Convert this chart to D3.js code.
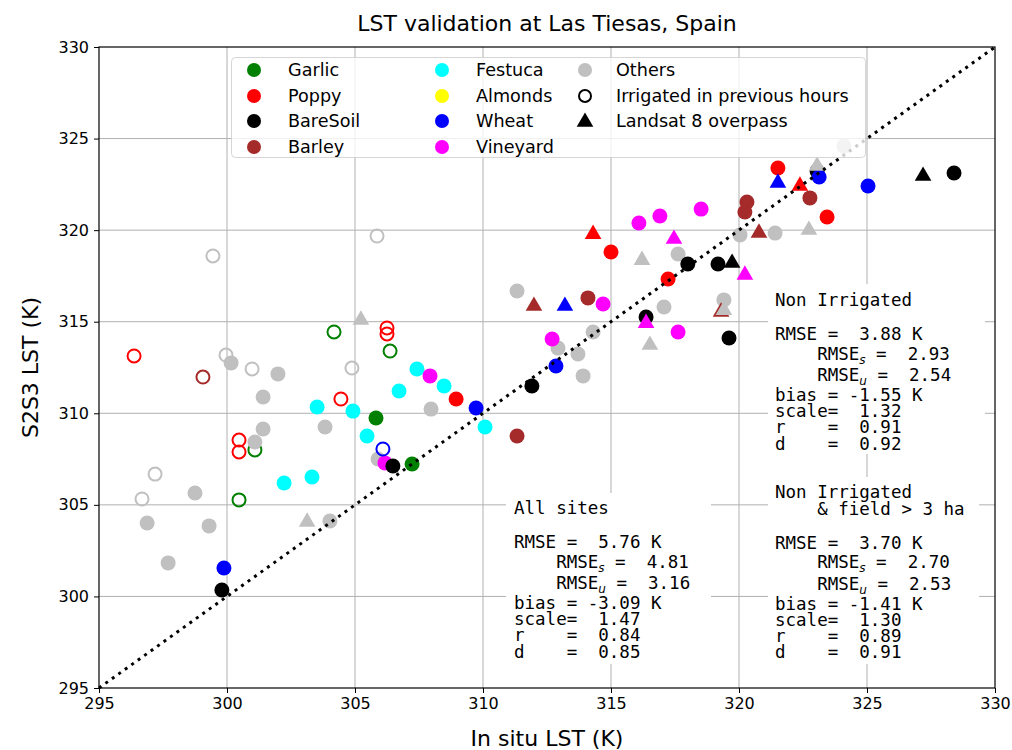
<!DOCTYPE html>
<html>
<head>
<meta charset="utf-8">
<script src="https://cdn.jsdelivr.net/npm/d3@7"></script>
<style>
  html, body { margin: 0; padding: 0; background: #fff; }
  svg text { font-family: "DejaVu Sans", sans-serif; fill: #000; }
  .mono { font-family: "DejaVu Sans Mono", monospace; white-space: pre; }
</style>
</head>
<body>
<svg id="chart" width="1012" height="750"></svg>
<script>
// Axis ticks
const xTicks = [295, 300, 305, 310, 315, 320, 325, 330];
const yTicks = [295, 300, 305, 310, 315, 320, 325, 330];

// Points per crop: [in situ LST, S2S3 LST, kind]
// kind: "n" = normal, "i" = irrigated in previous hours, "l" = Landsat 8 overpass
const garlic = [
  [304.18, 314.44, "i"], [306.37, 313.40, "i"], [301.09, 308.00, "i"], [300.47, 305.27, "i"],
  [305.82, 309.74, "n"], [307.23, 307.23, "n"]
];
const barley = [
  [299.06, 311.98, "i"],
  [311.33, 308.76, "n"], [314.10, 316.30, "n"], [320.31, 321.54, "n"], [320.23, 320.99, "n"], [322.77, 321.76, "n"],
  [311.99, 315.91, "l"], [320.78, 319.90, "l"], [319.30, 315.59, "l"]
];
const others = [
  [301.41, 309.14, "n"], [301.09, 308.43, "n"], [300.16, 312.75, "n"], [301.99, 312.15, "n"],
  [301.41, 310.89, "n"], [303.83, 309.25, "n"], [298.75, 305.65, "n"], [296.88, 304.01, "n"],
  [299.30, 303.85, "n"], [297.70, 301.83, "n"], [304.02, 304.12, "n"], [305.90, 307.50, "n"],
  [307.97, 310.23, "n"], [311.33, 316.68, "n"], [314.30, 314.44, "n"], [312.93, 313.56, "n"],
  [313.71, 313.24, "n"], [313.91, 312.04, "n"], [317.07, 315.80, "n"], [317.62, 318.70, "n"],
  [320.04, 319.74, "n"], [321.41, 319.84, "n"], [319.41, 316.19, "n"], [324.10, 324.59, "n"],
  [299.45, 318.59, "i"], [305.86, 319.68, "i"], [299.96, 313.18, "i"], [300.98, 312.42, "i"],
  [304.88, 312.47, "i"], [297.19, 306.68, "i"], [296.68, 305.32, "i"],
  [305.23, 315.15, "l"], [303.13, 304.12, "l"], [316.21, 318.42, "l"], [316.52, 313.78, "l"],
  [322.73, 320.06, "l"], [323.05, 323.56, "l"], [319.41, 315.69, "l"]
];
const poppy = [
  [296.37, 313.13, "i"], [300.47, 308.54, "i"], [300.47, 307.89, "i"], [304.45, 310.78, "i"],
  [306.25, 314.66, "i"], [306.25, 314.33, "i"],
  [308.95, 310.78, "n"], [315.00, 318.81, "n"], [317.23, 317.33, "n"], [321.52, 323.39, "n"], [323.44, 320.72, "n"],
  [314.30, 319.84, "l"], [322.38, 322.47, "l"]
];
const festuca = [
  [302.23, 306.19, "n"], [303.32, 306.52, "n"], [303.52, 310.34, "n"], [304.92, 310.12, "n"],
  [305.47, 308.76, "n"], [306.72, 311.22, "n"], [307.42, 312.42, "n"], [308.48, 311.49, "n"],
  [310.08, 309.25, "n"]
];
const almonds = [];
const vineyard = [
  [306.17, 307.29, "n"], [307.93, 312.04, "n"], [312.70, 314.06, "n"], [314.69, 315.97, "n"],
  [316.09, 320.39, "n"], [316.91, 320.77, "n"], [318.52, 321.15, "n"], [317.62, 314.44, "n"],
  [316.37, 314.98, "l"], [317.46, 319.57, "l"], [320.23, 317.61, "l"]
];
const bareSoil = [
  [299.80, 300.35, "n"], [306.48, 307.12, "n"], [311.91, 311.49, "n"], [316.37, 315.26, "n"],
  [318.00, 318.15, "n"], [319.18, 318.15, "n"], [319.61, 314.11, "n"], [323.05, 323.23, "n"],
  [328.40, 323.12, "n"],
  [319.73, 318.26, "l"], [327.19, 323.01, "l"]
];
const wheat = [
  [299.88, 301.55, "n"], [309.73, 310.29, "n"], [312.85, 312.58, "n"], [323.13, 322.90, "n"], [325.04, 322.41, "n"],
  [306.09, 308.05, "i"],
  [313.20, 315.91, "l"], [321.52, 322.63, "l"]
];

// Legend labels (in legend order)
const legendCrops = ["Garlic", "Poppy", "BareSoil", "Barley", "Festuca", "Almonds", "Wheat", "Vineyard", "Others"];
const legendExtra = ["Irrigated in previous hours", "Landsat 8 overpass"];

// Statistics text blocks
const statsAll = { title: ["All sites"], rmse: "5.76", rmseS: "4.81", rmseU: "3.16", bias: "-3.09", scale: "1.47", r: "0.84", d: "0.85" };
const statsNonIrr = { title: ["Non Irrigated"], rmse: "3.88", rmseS: "2.93", rmseU: "2.54", bias: "-1.55", scale: "1.32", r: "0.91", d: "0.92" };
const statsNonIrrBig = { title: ["Non Irrigated", "    & field > 3 ha"], rmse: "3.70", rmseS: "2.70", rmseU: "2.53", bias: "-1.41", scale: "1.30", r: "0.89", d: "0.91" };

// ---- drawing ----
const colors = {
  Garlic: "#008000", Poppy: "#ff0000", BareSoil: "#000000", Barley: "#a52a2a",
  Festuca: "#00ffff", Almonds: "#ffff00", Wheat: "#0000ff", Vineyard: "#ff00ff", Others: "#c0c0c0"
};
const cropData = {
  Garlic: garlic, Poppy: poppy, BareSoil: bareSoil, Barley: barley, Festuca: festuca,
  Almonds: almonds, Wheat: wheat, Vineyard: vineyard, Others: others
};
const drawOrder = ["Garlic", "Barley", "Others", "Poppy", "Festuca", "Almonds", "Vineyard", "BareSoil", "Wheat"];

const svg = d3.select("#chart");
const pLeft = 99, pRight = 995, pTop = 47, pBottom = 688;
const x = d3.scaleLinear().domain([295, 330]).range([pLeft, pRight]);
const y = d3.scaleLinear().domain([295, 330]).range([pBottom, pTop]);

// grid
const grid = svg.append("g").attr("stroke", "#b0b0b0").attr("stroke-width", 1);
xTicks.slice(1, -1).forEach(t => grid.append("line")
  .attr("x1", x(t)).attr("x2", x(t)).attr("y1", pTop).attr("y2", pBottom));
yTicks.slice(1, -1).forEach(t => grid.append("line")
  .attr("x1", pLeft).attr("x2", pRight).attr("y1", y(t)).attr("y2", y(t)));

// axes
const xAxis = svg.append("g").attr("transform", `translate(0,${pBottom})`)
  .call(d3.axisBottom(x).tickValues(xTicks).tickFormat(d3.format("d")).tickSize(5).tickPadding(5));
const yAxis = svg.append("g").attr("transform", `translate(${pLeft},0)`)
  .call(d3.axisLeft(y).tickValues(yTicks).tickFormat(d3.format("d")).tickSize(5).tickPadding(5));
[xAxis, yAxis].forEach(a => {
  a.select(".domain").remove();
  a.selectAll("text").attr("font-family", "DejaVu Sans").attr("font-size", 16).attr("fill", "#000");
  a.selectAll("line").attr("stroke", "#000");
});

const sym = d3.symbol().type(d3.symbolTriangle).size(120);
const plot = svg.append("g");

// circles per crop
drawOrder.forEach(name => {
  const c = colors[name];
  plot.selectAll(null).data(cropData[name].filter(d => d[2] === "n")).enter()
    .append("circle").attr("cx", d => x(d[0])).attr("cy", d => y(d[1])).attr("r", 7.5).attr("fill", c);
  plot.selectAll(null).data(cropData[name].filter(d => d[2] === "i")).enter()
    .append("circle").attr("cx", d => x(d[0])).attr("cy", d => y(d[1])).attr("r", 6.5)
    .attr("fill", "none").attr("stroke", c).attr("stroke-width", 2);
});
// Landsat overpass triangles
drawOrder.forEach(name => {
  plot.selectAll(null).data(cropData[name].filter(d => d[2] === "l")).enter()
    .append("path").attr("d", sym)
    .attr("transform", d => `translate(${x(d[0])},${y(d[1]) + 1})`)
    .attr("fill", colors[name]);
});

// 1:1 line
svg.append("line")
  .attr("x1", x(295)).attr("y1", y(295)).attr("x2", x(330)).attr("y2", y(330))
  .attr("stroke", "#000").attr("stroke-width", 3).attr("stroke-dasharray", "3,4.95");

// statistics boxes
function statsBox(s, bx, by, bw, bh, tx, ty) {
  const g = svg.append("g");
  g.append("rect").attr("x", bx).attr("y", by).attr("width", bw).attr("height", bh).attr("fill", "#fff");
  const fs = 17.5;
  let yy = ty;
  const line = (str) => g.append("text").attr("class", "mono").attr("x", tx).attr("y", yy)
    .attr("font-size", fs).text(str);
  s.title.forEach((t, i) => { line(t); yy += 16.5; });
  yy += 17.5;
  line(`RMSE =  ${s.rmse} K`);
  yy += 19.5;
  [["s", s.rmseS], ["u", s.rmseU]].forEach(([sub, val]) => {
    const t = g.append("text").attr("class", "mono").attr("x", tx).attr("y", yy).attr("font-size", fs);
    t.append("tspan").text("    RMSE");
    t.append("tspan").attr("font-family", "DejaVu Sans").attr("font-style", "italic")
      .attr("font-size", 12).attr("dy", 4).text(sub);
    t.append("tspan").attr("dy", -4).text(" =  " + val);
    yy += 21.5;
  });
  yy -= 1.5;
  line(`bias = ${s.bias} K`); yy += 16;
  line(`scale=  ${s.scale}`); yy += 16;
  line(`r    =  ${s.r}`); yy += 16.5;
  line(`d    =  ${s.d}`);
}
statsBox(statsAll, 506, 493, 205, 171, 514, 514);
statsBox(statsNonIrr, 768, 284, 217, 170, 775, 306);
statsBox(statsNonIrrBig, 768, 477, 211, 187, 775, 498);

// legend
const lg = svg.append("g");
lg.append("rect").attr("x", 231.5).attr("y", 57.5).attr("width", 634).attr("height", 100).attr("rx", 4)
  .attr("fill", "#fff").attr("fill-opacity", 0.8).attr("stroke", "#cccccc").attr("stroke-opacity", 0.8);
const colX = [254, 442, 585], textX = [288, 476, 616], rowY = [70, 96, 121, 147];
const legendFs = 17.6;
legendCrops.forEach((name, i) => {
  const col = Math.floor(i / 4), row = i % 4;
  lg.append("circle").attr("cx", colX[col]).attr("cy", rowY[row]).attr("r", 7).attr("fill", colors[name]);
  lg.append("text").attr("x", textX[col]).attr("y", rowY[row]).attr("dy", "0.35em")
    .attr("font-size", legendFs).text(name);
});
lg.append("circle").attr("cx", colX[2]).attr("cy", rowY[1]).attr("r", 6).attr("fill", "none")
  .attr("stroke", "#000").attr("stroke-width", 2);
lg.append("text").attr("x", textX[2]).attr("y", rowY[1]).attr("dy", "0.35em").attr("font-size", legendFs).text(legendExtra[0]);
lg.append("path").attr("d", sym).attr("transform", `translate(${colX[2]},${rowY[2] + 1})`).attr("fill", "#000");
lg.append("text").attr("x", textX[2]).attr("y", rowY[2]).attr("dy", "0.35em").attr("font-size", legendFs).text(legendExtra[1]);

// frame
svg.append("rect").attr("x", pLeft).attr("y", pTop).attr("width", pRight - pLeft).attr("height", pBottom - pTop)
  .attr("fill", "none").attr("stroke", "#000").attr("stroke-width", 1.2);

// titles
svg.append("text").attr("x", (pLeft + pRight) / 2 + 0).attr("y", 31).attr("text-anchor", "middle")
  .attr("font-size", 22).text("LST validation at Las Tiesas, Spain");
svg.append("text").attr("x", (pLeft + pRight) / 2).attr("y", 746).attr("text-anchor", "middle")
  .attr("font-size", 22).text("In situ LST (K)");
svg.append("text").attr("transform", `translate(38,${(pTop + pBottom) / 2}) rotate(-90)`).attr("text-anchor", "middle")
  .attr("font-size", 22).text("S2S3 LST (K)");
</script>
</body>
</html>
